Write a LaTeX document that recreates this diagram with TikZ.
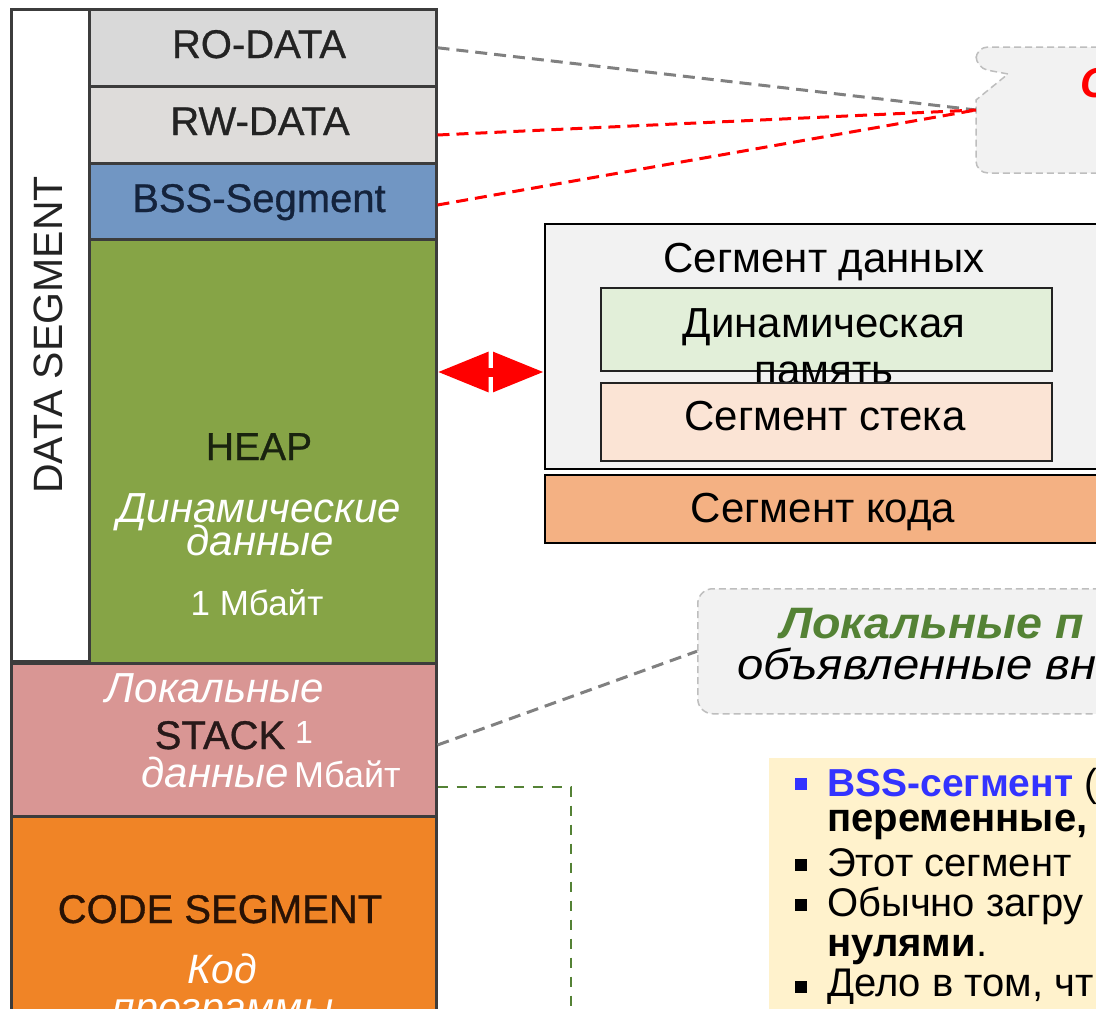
\documentclass[tikz,border=0pt]{standalone}
\usepackage{fontspec}
\setmainfont{Liberation Sans}
\newfontfamily\labelface{Liberation Sans}[FakeBold=0.8]
\usetikzlibrary{arrows.meta}

\definecolor{rofill}{RGB}{217,217,217}
\definecolor{rwfill}{RGB}{222,220,218}
\definecolor{bssfill}{RGB}{113,150,195}
\definecolor{heapfill}{RGB}{134,164,70}
\definecolor{stackfill}{RGB}{217,150,148}
\definecolor{codefill}{RGB}{240,132,38}
\definecolor{segline}{RGB}{60,60,60}
\definecolor{panelgray}{RGB}{242,242,242}
\definecolor{dynfill}{RGB}{226,239,217}
\definecolor{stkfill}{RGB}{251,228,213}
\definecolor{codebox}{RGB}{244,177,131}
\definecolor{notefill}{RGB}{255,242,204}
\definecolor{leafgreen}{RGB}{84,130,53}
\definecolor{linkgray}{RGB}{128,128,128}
\definecolor{calloutedge}{RGB}{190,190,190}
\definecolor{bssblue}{RGB}{51,51,255}
\definecolor{inkdark}{RGB}{35,35,35}
\definecolor{inknavy}{RGB}{20,35,60}
\definecolor{inkolive}{RGB}{25,35,15}
\definecolor{inkbrown}{RGB}{40,18,5}
\definecolor{inkplum}{RGB}{40,25,25}

\newcommand\fsz[1]{\fontsize{#1}{#1}\selectfont}

\begin{document}
\begin{tikzpicture}[x=1pt,y=-1pt,
  seg/.style={draw=segline, line width=2.5pt, inner sep=0pt, anchor=north west},
  panel/.style={draw=black, line width=2pt, inner sep=0pt, anchor=north west},
  inner box/.style={draw=inkdark, line width=1.5pt, inner sep=0pt, anchor=north west},
  lbl/.style={anchor=base, inner sep=0pt},
  lblw/.style={anchor=base west, inner sep=0pt},
  graylink/.style={draw=linkgray, line width=3pt, dash pattern=on 12pt off 7pt},
  redlink/.style={draw=red, line width=3pt, dash pattern=on 12pt off 7pt},
  greenlink/.style={draw=leafgreen, line width=2.5pt, dash pattern=on 10pt off 9pt},
  callout/.style={fill=panelgray, draw=calloutedge, line width=1.5pt, dash pattern=on 7pt off 4pt},
  bullet/.style={minimum size=12pt, inner sep=0pt},
]
\useasboundingbox (0,0) rectangle (1096,1009);
\fill[white] (0,0) rectangle (1096,1009);

% ---- memory layout column ----
\node[seg, fill=white,     minimum width=78,  minimum height=652] (strip) at (10,8) {};
\node[seg, fill=rofill,    minimum width=347, minimum height=77]  (ro)    at (88,8) {};
\node[seg, fill=rwfill,    minimum width=347, minimum height=77]  (rw)    at (88,85) {};
\node[seg, fill=bssfill,   minimum width=347, minimum height=76]  (bss)   at (88,162) {};
\node[seg, fill=heapfill,  minimum width=347, minimum height=424] (heap)  at (88,238) {};
\node[seg, fill=stackfill, minimum width=425, minimum height=153] (stack) at (10,662) {};
\node[seg, fill=codefill,  minimum width=425, minimum height=220] (code)  at (10,815) {};

\node[lbl, text=inkdark, font=\labelface\fsz{40}] (tro)  at (259,58)  {RO-DATA};
\node[lbl, text=inkdark, font=\labelface\fsz{40}] (trw)  at (260,135) {RW-DATA};
\node[lbl, text=inknavy, font=\labelface\fsz{40}] (tbss) at (259,212) {BSS-Segment};
\node[lbl, text=inkdark, font=\fsz{41}, rotate=90] (tdata) at (62,335) {DATA SEGMENT};

\node[lbl, text=inkolive, font=\labelface\fsz{39}] (theap) at (259,460) {HEAP};
\node[lbl, text=white, font=\fsz{42}\itshape] (hd1) at (259,522) {Динамические};
\node[lbl, text=white, font=\fsz{42}\itshape] (hd2) at (260,555) {данные};
\node[lbl, text=white, font=\fsz{35}] (hd3) at (257,615) {1 Мбайт};

\node[lbl, text=white, font=\fsz{42}\itshape] (sl1) at (215,702) {Локальные};
\node[lbl, text=inkplum, font=\labelface\fsz{40}] (sst) at (220,749) {STACK};
\node[lbl, text=white, font=\fsz{42}\itshape] (sl2) at (215,787) {данные};
\node[lblw, text=white, font=\fsz{32}] (s1) at (295,743) {1};
\node[lblw, text=white, font=\fsz{36}] (smb) at (294,787) {Мбайт};

\node[lbl, text=inkbrown, font=\labelface\fsz{40}] (tcode) at (220,923) {CODE SEGMENT};
\node[lbl, text=white, font=\fsz{41}\itshape] (ck) at (222,983) {Код};
\node[lbl, text=white, font=\fsz{41}\itshape] (cp) at (223,1021) {программы};

% ---- segment overview ----
\node[panel, fill=panelgray, minimum width=600, minimum height=245] (dseg) at (544,223) {};
\node[lbl, font=\fsz{42}] (tdseg) at (824,272) {Сегмент данных};
\node[inner box, fill=dynfill, minimum width=451, minimum height=83] (dyn) at (600,287) {};
\node[lbl, font=\fsz{42}] (tdyn1) at (824,337) {Динамическая};
\node[lbl, font=\fsz{42}] (tdyn2) at (824,384) {память};
\node[inner box, fill=stkfill, minimum width=451, minimum height=78] (stk) at (600,382) {};
\node[lbl, font=\fsz{42}] (tstk) at (825,430) {Сегмент стека};
\node[panel, fill=codebox, minimum width=600, minimum height=68] (cseg) at (544,474) {};
\node[lbl, font=\fsz{42}] (tcseg) at (823,522) {Сегмент кода};

% two-headed arrow between heap and overview
\coordinate (arrowy) at (0,372);
\draw[red, line width=9pt, {Triangle[length=51pt,width=38pt]}-{Triangle[length=51pt,width=38pt]}]
  (heap.east |- arrowy) -- (dseg.west |- arrowy);

% ---- callout for static data ----
\path[callout] (1120,47) [rounded corners=12pt] -- (976,47) -- (976,68) [sharp corners] -- (1008,74)
  -- (976,100) [rounded corners=12pt] -- (976,173) -- (1120,173);
\coordinate (tip) at (976,110);
\node[lblw, text=red, font=\fsz{42}\bfseries\itshape] (tstat) at (1080,97) {С};

\coordinate (y135) at (0,135);
\coordinate (y205) at (0,205);
\draw[graylink] (ro.east) -- (tip);
\draw[redlink] (rw.east |- y135) -- (tip);
\draw[redlink] (bss.east |- y205) -- (tip);

% ---- callout for local variables ----
\node[callout, rounded corners=15pt, inner sep=0pt, anchor=north west,
      minimum width=450, minimum height=125] (lvar) at (697,588) {};
\node[lblw, text=leafgreen, font=\fsz{44}\bfseries\itshape, xscale=1.06] (tlv1) at (780,638) {Локальные п};
\node[lblw, font=\fsz{43}\itshape, xscale=1.1] (tlv2) at (737,679) {объявленные вн};
\coordinate (y745) at (0,745);
\draw[graylink] (stack.east |- y745) -- (lvar.west);

% ---- stack link down to the notes ----
\coordinate (y787) at (0,787);
\coordinate (gend) at (571,1020);
\draw[greenlink] (stack.east |- y787) -| (gend);

% ---- notes ----
\node[fill=notefill, inner sep=0pt, anchor=north west, minimum width=400, minimum height=300] (note) at (769,758) {};
\node[bullet, fill=bssblue] (b1) at (801,784) {};
\node[bullet, fill=black] (b2) at (801,865) {};
\node[bullet, fill=black] (b3) at (801,905) {};
\node[bullet, fill=black] (b4) at (801,987) {};
\node[lblw, font=\fsz{39}] (n1) at (827,796) {\textcolor{bssblue}{\bfseries BSS-сегмент} (};
\node[lblw, font=\fsz{40}\bfseries] (n2) at (827,831) {переменные,};
\node[lblw, font=\fsz{40}] (n3) at (827,876) {Этот сегмент};
\node[lblw, font=\fsz{40}] (n4) at (827,916) {Обычно загру};
\node[lblw, font=\fsz{40}] (n5) at (827,956) {{\bfseries нулями}.};
\node[lblw, font=\fsz{40}] (n6) at (827,996) {Дело в том, чт};
\end{tikzpicture}
\end{document}
